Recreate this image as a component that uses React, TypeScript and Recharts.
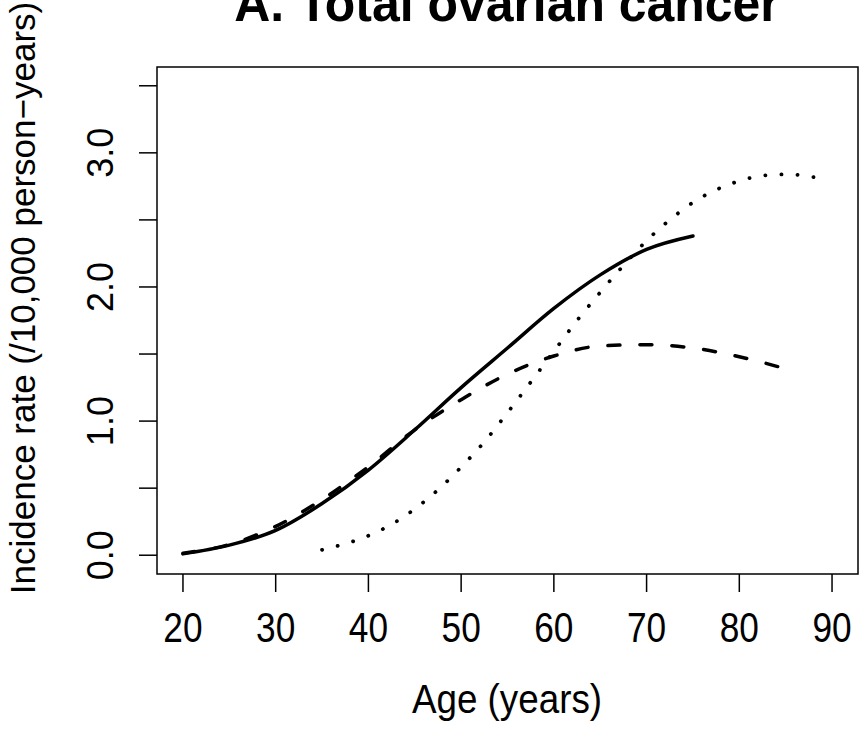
import { LineChart, Line, XAxis, YAxis, ReferenceArea } from 'recharts';

// age axis ticks and rate axis ticks
const X_TICKS = [20, 30, 40, 50, 60, 70, 80, 90];
const Y_TICKS = [0, 0.5, 1, 1.5, 2, 2.5, 3, 3.5];

// solid curve
const SOLID_AGE = [20, 25, 30, 35, 40, 45, 50, 55, 60, 65, 70, 75];
const SOLID_RATE = [0.01, 0.075, 0.185, 0.385, 0.635, 0.935, 1.25, 1.545, 1.84, 2.09, 2.28, 2.38];

// dashed curve
const DASHED_AGE = [20, 25, 30, 35, 40, 45, 50, 55, 60, 65, 70, 75, 80, 85];
const DASHED_RATE = [0.015, 0.08, 0.215, 0.415, 0.66, 0.935, 1.16, 1.35, 1.485, 1.56, 1.57, 1.545, 1.48, 1.39];

// dotted curve
const DOTTED_AGE = [35, 40, 42.5, 45, 47.5, 50, 52.5, 55, 57.5, 60, 62.5, 65, 67.5, 70, 72.5, 75, 77.5, 80, 82.5, 85, 87.5, 89];
const DOTTED_RATE = [0.04, 0.146, 0.23, 0.345, 0.487, 0.657, 0.845, 1.063, 1.29, 1.52, 1.75, 1.96, 2.16, 2.345, 2.5, 2.63, 2.725, 2.79, 2.83, 2.84, 2.825, 2.805];

const FONT = '"Liberation Sans", Arial, Helvetica, sans-serif';

const toPoints = (ages: number[], rates: number[]) =>
  ages.map((age, i) => ({ age, rate: rates[i] }));

const solidData = toPoints(SOLID_AGE, SOLID_RATE);
const dashedData = toPoints(DASHED_AGE, DASHED_RATE);
const dottedData = toPoints(DOTTED_AGE, DOTTED_RATE);

// the reference text is a bit narrow, so squeeze it sideways
const XTick = (props: any) => {
  const { x, y, payload } = props;
  return (
    <text
      transform={`translate(${x}, ${y + 48}) scale(0.84, 1)`}
      textAnchor="middle"
      fontFamily={FONT}
      fontSize={42}
      fill="#000"
    >
      {payload.value}
    </text>
  );
};

const YTick = (props: any) => {
  const { x, y, payload } = props;
  if (!Number.isInteger(payload.value)) return <g />;
  const bx = x - 24;
  return (
    <text
      x={bx}
      y={y}
      transform={`rotate(-90, ${bx}, ${y})`}
      textAnchor="middle"
      fontFamily={FONT}
      fontSize={36}
      fill="#000"
    >
      {payload.value.toFixed(1)}
    </text>
  );
};

export default function App() {
  return (
    <div style={{ position: 'absolute', left: 0, top: 0, width: 860, height: 734, background: '#fff' }}>
      <LineChart width={860} height={734} margin={{ top: 67, right: 2, bottom: 0, left: 0 }}>
        <XAxis
          dataKey="age"
          type="number"
          domain={[17.2, 92.8]}
          ticks={X_TICKS}
          allowDataOverflow
          axisLine={false}
          tickLine={{ stroke: '#000', strokeWidth: 1.5 }}
          tickSize={18}
          height={160}
          tick={<XTick />}
        />
        <YAxis
          type="number"
          domain={[-0.14, 3.64]}
          ticks={Y_TICKS}
          allowDataOverflow
          axisLine={false}
          tickLine={{ stroke: '#000', strokeWidth: 1.5 }}
          tickSize={18}
          width={157}
          tick={<YTick />}
        />
        <ReferenceArea
          x1={17.2}
          x2={92.8}
          y1={-0.14}
          y2={3.64}
          fill="none"
          fillOpacity={0}
          stroke="#000"
          strokeWidth={1.5}
        />
        <Line
          data={solidData}
          dataKey="rate"
          type="monotone"
          stroke="#000"
          strokeWidth={3.5}
          strokeLinecap="round"
          dot={false}
          isAnimationActive={false}
        />
        <Line
          data={dashedData}
          dataKey="rate"
          type="monotone"
          stroke="#000"
          strokeWidth={3.5}
          strokeDasharray="12 20"
          strokeLinecap="round"
          dot={false}
          isAnimationActive={false}
        />
        <Line
          data={dottedData}
          dataKey="rate"
          type="monotone"
          stroke="#000"
          strokeWidth={3.8}
          strokeDasharray="0.1 16"
          strokeLinecap="round"
          dot={false}
          isAnimationActive={false}
        />
      </LineChart>
      <svg
        width={860}
        height={734}
        style={{ position: 'absolute', left: 0, top: 0, pointerEvents: 'none' }}
      >
        <text
          transform="translate(507, 21) scale(0.96, 1)"
          textAnchor="middle"
          fontFamily={FONT}
          fontSize={52}
          fontWeight="bold"
          fill="#000"
        >
          A. Total ovarian cancer
        </text>
        <text
          transform="translate(507, 713) scale(0.92, 1)"
          textAnchor="middle"
          fontFamily={FONT}
          fontSize={40}
          fill="#000"
        >
          Age (years)
        </text>
        <text
          x={35}
          y={298}
          transform="rotate(-90, 35, 298)"
          textAnchor="middle"
          fontFamily={FONT}
          fontSize={35}
          fill="#000"
        >
          Incidence rate (/10,000 person−years)
        </text>
      </svg>
    </div>
  );
}
